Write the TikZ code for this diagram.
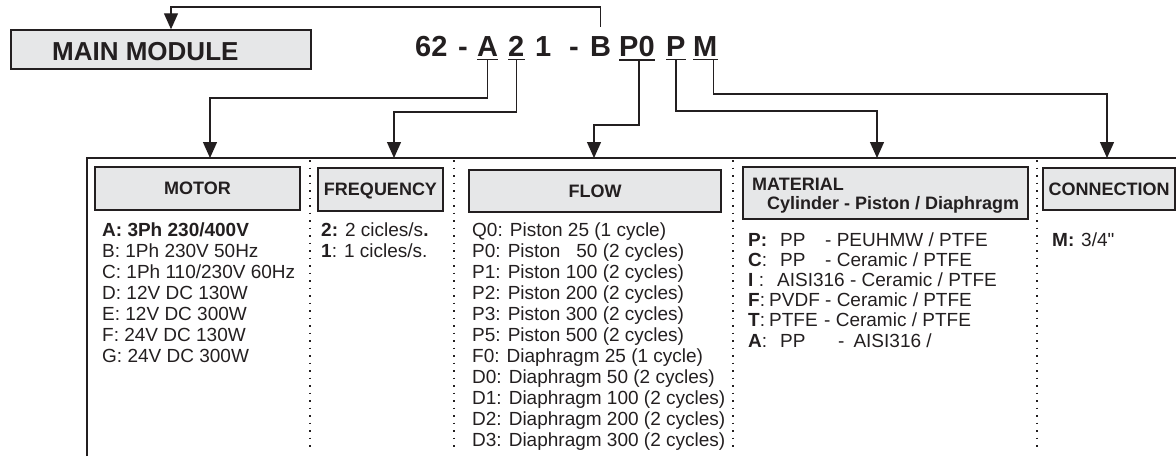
\documentclass[tikz,border=0pt]{standalone}
\usepackage{fontspec}
\setmainfont{Liberation Sans}
\newfontfamily\plainfont{Liberation Sans}
\usetikzlibrary{arrows.meta}
\definecolor{ink}{HTML}{231F20}
\definecolor{hdrfill}{HTML}{E6E7E8}
\begin{document}
\begin{tikzpicture}[x=1pt,y=-1pt,
  line/.style={draw=ink, line width=1.3pt},
  conn/.style={draw=ink, line width=1.3pt, -{Triangle[length=16pt,width=14pt]}},
  hdrbox/.style={draw=ink, line width=1.4pt, fill=hdrfill, inner sep=0pt},
  hdrtxt/.style={font=\fontsize{18}{20}\selectfont\bfseries, text=ink, text height=12.9pt, text depth=0pt},
  body/.style={font=\fontsize{19}{21}\selectfont, text=ink, anchor=base west, inner sep=0pt},
  codech/.style={font=\fontsize{29}{31}\selectfont\bfseries, text=ink, anchor=base west, inner sep=0pt},
  sepline/.style={draw=ink, line width=1.4pt, dash pattern=on 1.5pt off 6pt},
]
\useasboundingbox (0,0) rectangle (1176,456);

% main module
\node[hdrbox, minimum width=300pt, minimum height=39pt] (main) at (161,49.5) {};
\node[font=\fontsize{26}{28}\selectfont\bfseries, text=ink, anchor=base west, inner sep=0pt] (mainlbl) at (52,60) {MAIN MODULE};

% code
\node[codech] (c62) at (415,56) {62};
\node[codech] (h1) at (458,56) {-};
\node[codech] (A) at (477,56) {A};
\node[codech] (two) at (508,56) {2};
\node[codech] (one) at (535,56) {1};
\node[codech] (h2) at (569,56) {-};
\node[codech] (B) at (590,56) {B};
\node[codech] (P0) at (619,56) {P0};
\node[codech] (P) at (666,56) {P};
\node[codech] (M) at (693,56) {M};
\foreach \n in {A,two,P0,P,M}
  \draw[line] ([yshift=-3.5pt]\n.south west) -- ([yshift=-3.5pt]\n.south east);

% frame
\draw[line, line width=1.5pt] (87,456) -- (87,158) -- (1176,158);
\foreach \xx in {310,454,733,1037}
  \draw[sepline] (\xx,160) -- (\xx,452);

\coordinate (tMot) at (210,158);
\coordinate (tFrq) at (394,158);
\coordinate (tFlo) at (594,158);
\coordinate (tMat) at (877,158);
\coordinate (tCon) at (1107,158);

% connectors
\draw[conn] ([yshift=9pt]B.north) |- (171,7) -- ([xshift=10pt]main.north);
\draw[conn] ([yshift=-3.5pt]A.south) |- (tMot |- 0,98) -- (tMot);
\draw[conn] ([yshift=-3.5pt]two.south) |- (tFrq |- 0,112) -- (tFrq);
\draw[conn] ([yshift=-3.5pt,xshift=2pt]P0.south) |- (tFlo |- 0,125) -- (tFlo);
\draw[conn] ([yshift=-3.5pt]P.south) |- (tMat |- 0,111) -- (tMat);
\draw[conn] ([yshift=-3.5pt,xshift=8pt]M.south) |- (tCon |- 0,94) -- (tCon);

% headers
\node[hdrbox, hdrtxt, minimum width=205pt, minimum height=43pt] (motor) at (197.5,188.5) {MOTOR};
\node[hdrbox, hdrtxt, minimum width=125pt, minimum height=43pt] (freq) at (380.5,189.5) {FREQUENCY};
\node[hdrbox, hdrtxt, minimum width=252pt, minimum height=42pt] (flow) at (595,191) {FLOW};
\node[hdrbox, minimum width=285pt, minimum height=52pt] (mat) at (885.5,193) {};
\node[hdrtxt, anchor=base west, inner sep=0pt, text height=] (matl1) at (752,190) {MATERIAL};
\node[hdrtxt, anchor=base west, inner sep=0pt, text height=] (matl2) at (767,209) {Cylinder - Piston / Diaphragm};
\node[hdrbox, hdrtxt, minimum width=132pt, minimum height=42pt] (con) at (1109,189) {CONNECTION};

% motor list
\foreach \txt [count=\i] in {{\textbf{A: 3Ph 230/400V}}, B: 1Ph 230V 50Hz, C: 1Ph 110/230V 60Hz, D: 12V DC 130W, E: 12V DC 300W, F: 24V DC 130W, G: 24V DC 300W}
  \node[body] (mot\i) at (102,{236+21.1*(\i-1)}) {\txt};

% frequency list
\node[body] (frq1) at (321,236) {\textbf{2:} 2 cicles/s\textbf{.}};
\node[body] (frq2) at (321,257) {\textbf{1}: 1 cicles/s.};

% flow list
\foreach \txt [count=\i] in {Q0: Piston 25 (1 cycle), {P0: Piston \phantom{1}50 (2 cycles)}, P1: Piston 100 (2 cycles), P2: Piston 200 (2 cycles), P3: Piston 300 (2 cycles), P5: Piston 500 (2 cycles), F0: Diaphragm 25 (1 cycle), D0: Diaphragm 50 (2 cycles), D1: Diaphragm 100 (2 cycles), D2: Diaphragm 200 (2 cycles), D3: Diaphragm 300 (2 cycles)}
  \node[body] (flo\i) at (472,{236+21.05*(\i-1)}) {\txt};

% material list
\node[body] (mat1) at (748,246) {\makebox[32pt][l]{\textbf{P:}}\makebox[45pt][l]{PP}- PEUHMW / PTFE};
\node[body] (mat2) at (748,266.2) {\makebox[32pt][l]{\textbf{C}:}\makebox[45pt][l]{PP}- Ceramic / PTFE};
\node[body] (mat3) at (748,286.4) {\makebox[29pt][l]{\textbf{I} :}AISI316 - Ceramic / PTFE};
\node[body] (mat4) at (748,306.6) {\makebox[21pt][l]{\textbf{F}:}PVDF - Ceramic / PTFE};
\node[body] (mat5) at (748,326.8) {\makebox[21pt][l]{\textbf{T}:}\makebox[55pt][l]{PTFE}- Ceramic / PTFE};
\node[body] (mat6) at (748,347) {\makebox[32pt][l]{\textbf{A}:}\makebox[58pt][l]{PP}-\hspace{9pt}AISI316 /};

% connection
\node[body] (con1) at (1052,246) {\makebox[29pt][l]{\textbf{M:}}3/4{\plainfont"}};
\end{tikzpicture}
\end{document}
